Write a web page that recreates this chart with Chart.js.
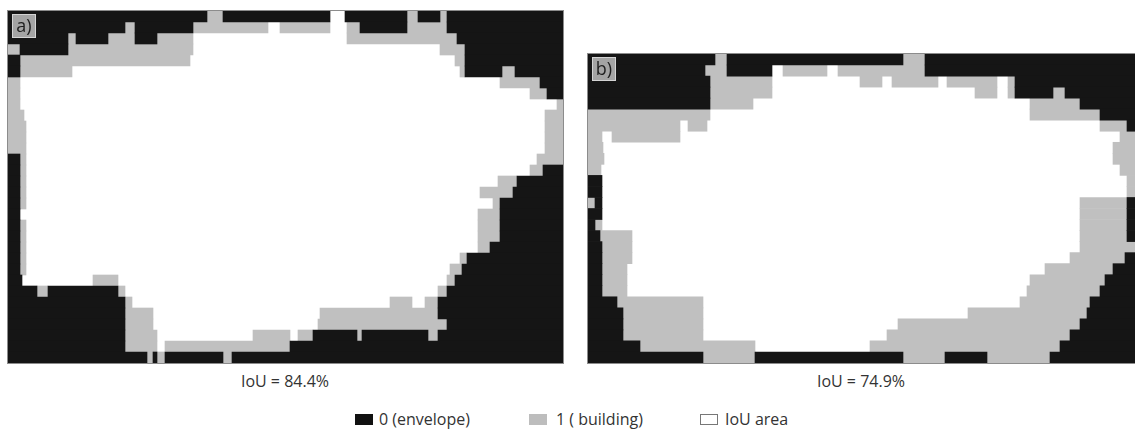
<!DOCTYPE html>
<html>
<head>
<meta charset="utf-8">
<script src="https://cdn.jsdelivr.net/npm/chart.js@4.4.0/dist/chart.umd.min.js"></script>
<style>
  body { margin: 0; background: #fff; width: 1135px; height: 434px; position: relative; overflow: hidden;
         font-family: "Open Sans", sans-serif; color: #333; }
  .panel { position: absolute; outline: 1px solid #8c8c8c; }
  .tag { position: absolute; width: 24px; height: 24px; box-sizing: border-box; background: #a4a4a4;
         border: 1px solid #d4d4d4; color: #1e1e1e; font-size: 18px; line-height: 21px; text-align: center; }
  .iou { position: absolute; top: 370px; width: 240px; text-align: center; font-size: 16px; }
  .leg { position: absolute; top: 409px; font-size: 16px; line-height: 20px; }
  .sw { position: absolute; top: 414px; width: 18px; height: 11px; box-sizing: border-box; }
</style>
</head>
<body>
<div class="panel" id="wrapA" style="left:8px;top:11px;width:555px;height:352px"><canvas id="panelA"></canvas></div>
<div class="panel" id="wrapB" style="left:588px;top:54px;width:547px;height:309px"><canvas id="panelB"></canvas></div>
<div class="tag" style="left:12px;top:14px">a)</div>
<div class="tag" style="left:592px;top:57px">b)</div>
<div class="iou" style="left:165px">IoU = 84.4%</div>
<div class="iou" style="left:741px">IoU = 74.9%</div>

<div class="sw" style="left:355px;background:#111"></div>
<div class="leg" style="left:379px">0 (envelope)</div>
<div class="sw" style="left:529px;background:#bdbdbd"></div>
<div class="leg" style="left:556px">1 ( building)</div>
<div class="sw" style="left:700px;background:#fff;border:1px solid #777"></div>
<div class="leg" style="left:725px">IoU area</div>

<script>
// classes of the masks: 0 = envelope, 1 = building, 2 = IoU area
var classNames = ['0 (envelope)', '1 ( building)', 'IoU area'];
var classColors = ['#151515', '#c0c0c0', '#ffffff'];

// grid columns across each panel
var colsA = 555;
var colsB = 547;

// one string per grid row, top to bottom: "class:endColumn" runs from left to right
var rowsA = [
  "0:199 1:215 0:322 2:337 0:399 1:410 0:432 1:439 0:555",
  "0:117 1:127 0:185 1:260 2:272 1:322 2:339 1:352 0:399 1:439 0:555",
  "0:60 1:68 0:100 1:127 0:149 1:185 2:339 1:449 0:555",
  "1:12 0:60 1:185 2:432 1:457 0:555",
  "0:12 1:182 2:447 1:457 0:555",
  "0:12 1:64 2:452 1:457 0:494 1:507 0:555",
  "1:12 2:492 1:532 0:555",
  "1:12 2:522 1:539 0:555",
  "1:12 2:549 1:555",
  "1:16 2:537 1:555",
  "1:18 2:537 1:555",
  "1:18 2:537 1:555",
  "1:18 2:537 1:555",
  "0:12 1:18 2:529 1:555",
  "0:12 1:18 2:522 1:535 0:555",
  "0:12 1:18 2:490 1:509 0:555",
  "0:12 1:18 2:472 1:505 0:555",
  "0:12 1:18 2:485 1:492 0:555",
  "0:12 2:470 1:492 0:555",
  "0:12 1:18 2:470 1:492 0:555",
  "0:12 1:18 2:470 1:492 0:555",
  "0:12 1:18 2:470 1:482 0:555",
  "0:12 1:18 2:452 1:459 0:555",
  "0:12 1:18 2:442 1:454 0:555",
  "0:14 2:85 1:110 2:439 1:447 0:555",
  "0:29 1:40 0:110 1:117 2:430 1:439 0:555",
  "0:117 1:124 2:382 1:404 2:417 1:430 0:555",
  "0:117 1:145 2:312 1:430 0:555",
  "0:117 1:145 2:310 1:439 0:555",
  "0:117 1:149 2:245 1:282 2:290 1:305 0:349 1:354 0:420 1:430 0:555",
  "0:117 1:149 2:157 1:282 0:555",
  "0:139 1:145 0:149 1:157 0:215 1:224 0:555"
];

var rowsB = [
  "0:127 1:139 0:315 1:337 0:547",
  "0:117 1:139 0:184 2:195 1:239 2:250 1:337 0:547",
  "0:122 1:184 2:272 1:294 2:304 1:350 2:359 1:409 2:420 1:427 0:547",
  "0:122 1:184 2:387 1:409 2:420 1:427 0:465 1:477 0:547",
  "0:122 1:165 2:442 1:492 0:547",
  "1:122 2:442 1:512 0:547",
  "1:92 2:100 1:119 2:512 1:539 0:547",
  "1:14 2:24 1:92 2:532 1:547",
  "1:15 2:525 1:547",
  "1:16 2:525 1:547",
  "1:13 2:532 1:547",
  "0:14 2:539 1:547",
  "0:14 2:539 1:547",
  "1:7 0:14 2:492 1:539 0:547",
  "0:14 2:492 1:539 0:547",
  "0:7 1:14 2:492 1:539 0:547",
  "0:12 1:44 2:492 1:539 0:547",
  "0:14 1:44 2:492 1:547",
  "0:14 1:44 2:482 1:537 0:547",
  "0:14 1:39 2:457 1:525 0:547",
  "0:14 1:39 2:442 1:517 0:547",
  "0:14 1:39 2:439 1:512 0:547",
  "0:29 1:115 2:432 1:502 0:547",
  "0:35 1:115 2:380 1:499 0:547",
  "0:35 1:115 2:310 1:492 0:547",
  "0:35 1:115 2:299 1:482 0:547",
  "0:52 1:167 2:282 1:472 0:547",
  "0:115 1:167 0:315 1:357 0:399 1:462 0:547"
];

// turn the run strings into floating bars for one class
function runsOf(rows, cls) {
  var out = [];
  rows.forEach(function(row, i) {
    var start = 0;
    row.split(' ').forEach(function(tok) {
      var p = tok.split(':');
      var c = Number(p[0]), end = Number(p[1]);
      if (c === cls) out.push({ y: String(i), x: [start, end] });
      start = end;
    });
  });
  return out;
}

function drawPanel(id, rows, cols) {
  new Chart(id, {
    type: 'bar',
    data: {
      labels: rows.map(function(r, i) { return String(i); }),
      datasets: [0, 1, 2].map(function(c) {
        return {
          label: classNames[c],
          data: runsOf(rows, c),
          backgroundColor: classColors[c],
          borderWidth: 0,
          grouped: false,
          barPercentage: 1,
          categoryPercentage: 1
        };
      })
    },
    options: {
      indexAxis: 'y',
      responsive: true,
      maintainAspectRatio: false,
      animation: false,
      layout: { padding: 0 },
      plugins: { legend: { display: false }, tooltip: { enabled: false } },
      scales: {
        x: { type: 'linear', min: 0, max: cols, display: false },
        y: { display: false }
      }
    }
  });
}

drawPanel('panelA', rowsA, colsA);
drawPanel('panelB', rowsB, colsB);
</script>
</body>
</html>
